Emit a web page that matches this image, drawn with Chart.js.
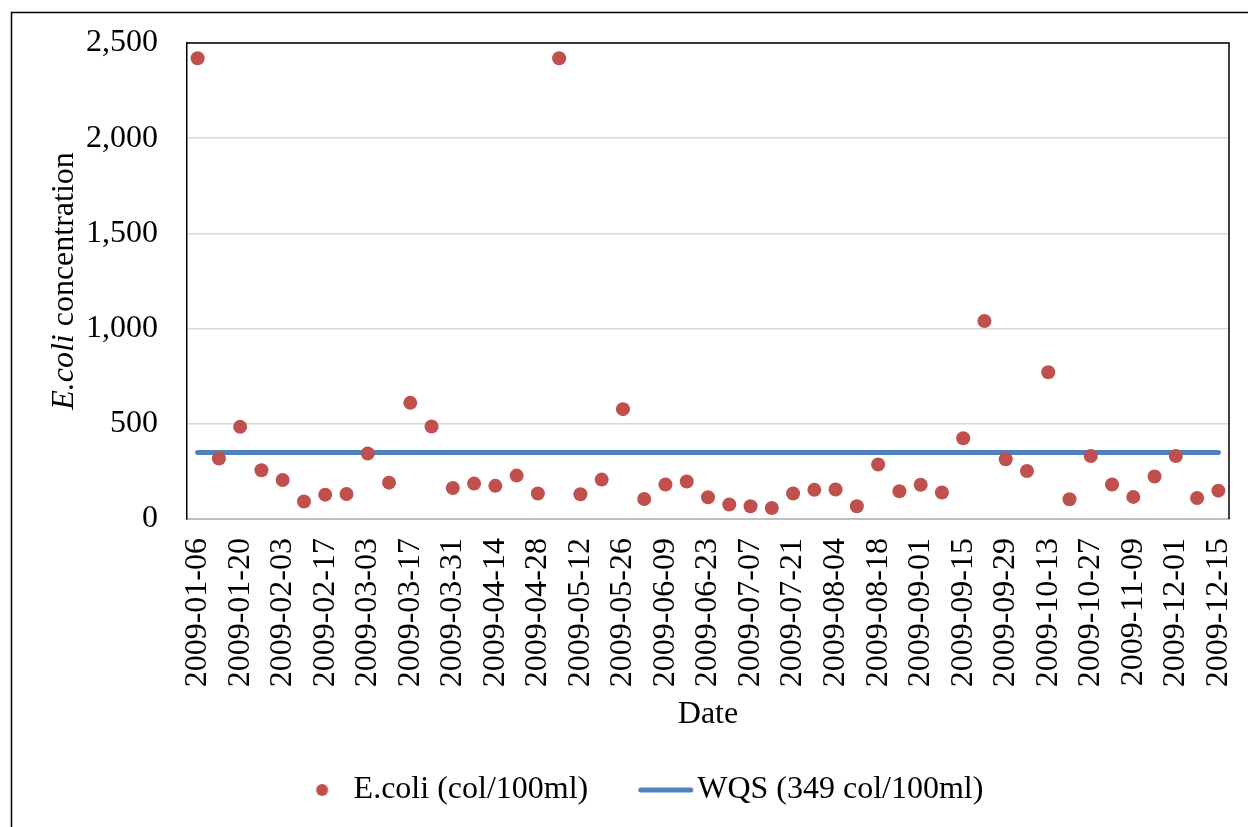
<!DOCTYPE html>
<html>
<head>
<meta charset="utf-8">
<script src="https://cdn.jsdelivr.net/npm/chart.js@4"></script>
<style>
  html, body { margin: 0; padding: 0; background: #fff; }
  canvas { display: block; }
</style>
</head>
<body>
<canvas id="ecoliChart" width="1248" height="827"></canvas>
<script>
const sampleDates = [
    '2009-01-06', '2009-01-13', '2009-01-20', '2009-01-27', '2009-02-03', '2009-02-10', '2009-02-17',
    '2009-02-24', '2009-03-03', '2009-03-10', '2009-03-17', '2009-03-24', '2009-03-31', '2009-04-07',
    '2009-04-14', '2009-04-21', '2009-04-28', '2009-05-05', '2009-05-12', '2009-05-19', '2009-05-26',
    '2009-06-02', '2009-06-09', '2009-06-16', '2009-06-23', '2009-06-30', '2009-07-07', '2009-07-14',
    '2009-07-21', '2009-07-28', '2009-08-04', '2009-08-11', '2009-08-18', '2009-08-25', '2009-09-01',
    '2009-09-08', '2009-09-15', '2009-09-22', '2009-09-29', '2009-10-06', '2009-10-13', '2009-10-20',
    '2009-10-27', '2009-11-03', '2009-11-09', '2009-11-17', '2009-12-01', '2009-12-08', '2009-12-15'
];
const ecoliValues = [
    2420, 318, 484, 256, 205, 92, 128, 131, 344, 191, 610, 486, 163, 186, 174, 228, 134,
    2420, 130, 207, 577, 105, 181, 197, 114, 76, 67, 58, 134, 153, 155, 67, 286, 146, 180,
    139, 424, 1040, 314, 252, 771, 104, 331, 181, 116, 223, 331, 110, 149
];
const wqsLimit = 349;
const yTicks = [0, 500, 1000, 1500, 2000, 2500];
const seriesNames = ['E.coli (col/100ml)', 'WQS (349 col/100ml)'];
const yTitleParts = ['E.coli', ' concentration'];
const xTitle = 'Date';

const fontFamily = "'Liberation Serif', 'Times New Roman', serif";
const dotColor = '#c0504d';
const lineColor = '#4f81bd';

// legend icons: drawn off-centre so the marker/text spacing matches the reference
const makeDotIcon = () => {
    const c = document.createElement('canvas');
    c.width = 64; c.height = 16;
    const g = c.getContext('2d');
    g.fillStyle = dotColor;
    g.beginPath();
    g.arc(56.5, 8, 6, 0, Math.PI * 2);
    g.fill();
    return c;
};
const makeLineIcon = () => {
    const c = document.createElement('canvas');
    c.width = 108; c.height = 8;
    const g = c.getContext('2d');
    g.strokeStyle = lineColor;
    g.lineWidth = 5;
    g.lineCap = 'round';
    g.beginPath();
    g.moveTo(53.5, 4);
    g.lineTo(103.5, 4);
    g.stroke();
    return c;
};
const legendIcons = [makeDotIcon(), makeLineIcon()];

const framePlugin = {
    id: 'frame',
    beforeDraw(chart) {
        const {ctx, width, height} = chart;
        ctx.save();
        ctx.fillStyle = '#fff';
        ctx.fillRect(0, 0, width, height);
        ctx.strokeStyle = '#000';
        ctx.lineWidth = 1.5;
        ctx.beginPath();
        ctx.moveTo(11.5, height);
        ctx.lineTo(11.5, 12.5);
        ctx.lineTo(width, 12.5);
        ctx.stroke();
        ctx.restore();
    },
    beforeDatasetsDraw(chart) {
        const {ctx, chartArea: a} = chart;
        ctx.save();
        ctx.strokeStyle = '#000';
        ctx.lineWidth = 1.5;
        ctx.beginPath();
        ctx.moveTo(a.left, a.top);
        ctx.lineTo(a.right, a.top);
        ctx.lineTo(a.right, a.bottom);
        ctx.stroke();
        ctx.restore();
    }
};

const yTitlePlugin = {
    id: 'yTitle',
    afterDraw(chart) {
        const {ctx, chartArea} = chart;
        const cy = (chartArea.top + chartArea.bottom) / 2;
        const italic = 'italic 32px ' + fontFamily;
        const normal = '32px ' + fontFamily;
        ctx.save();
        ctx.translate(73, cy);
        ctx.rotate(-Math.PI / 2);
        ctx.fillStyle = '#000';
        ctx.textBaseline = 'alphabetic';
        ctx.textAlign = 'left';
        ctx.font = italic;
        const w1 = ctx.measureText(yTitleParts[0]).width;
        ctx.font = normal;
        const w2 = ctx.measureText(yTitleParts[1]).width;
        const x0 = -(w1 + w2) / 2;
        ctx.font = italic;
        ctx.fillText(yTitleParts[0], x0, 0);
        ctx.font = normal;
        ctx.fillText(yTitleParts[1], x0 + w1, 0);
        ctx.restore();
    }
};

const ctx = document.getElementById('ecoliChart').getContext('2d');
new Chart(ctx, {
    type: 'line',
    data: {
        labels: sampleDates,
        datasets: [
            {
                label: seriesNames[0],
                data: ecoliValues,
                showLine: false,
                pointRadius: 7,
                pointHoverRadius: 7,
                pointBackgroundColor: dotColor,
                pointBorderColor: dotColor,
                pointBorderWidth: 0,
                borderColor: dotColor,
                backgroundColor: dotColor
            },
            {
                label: seriesNames[1],
                data: [
                    { x: sampleDates[0], y: wqsLimit },
                    { x: sampleDates[sampleDates.length - 1], y: wqsLimit }
                ],
                borderColor: lineColor,
                backgroundColor: lineColor,
                borderWidth: 5,
                borderCapStyle: 'round',
                pointRadius: 0,
                pointHoverRadius: 0,
                fill: false
            }
        ]
    },
    options: {
        responsive: false,
        animation: false,
        layout: {
            padding: { left: 12, right: 19, top: 43, bottom: 11 }
        },
        scales: {
            x: {
                type: 'category',
                offset: true,
                grid: { display: false, drawTicks: false },
                border: { color: '#bfbfbf', width: 2 },
                ticks: {
                    autoSkip: false,
                    maxRotation: 90,
                    minRotation: 90,
                    padding: 19,
                    color: '#000',
                    font: { family: fontFamily, size: 32 },
                    callback: function (value, index) {
                        return index % 2 === 0 ? this.getLabelForValue(value) : '';
                    }
                },
                title: {
                    display: true,
                    text: xTitle,
                    color: '#000',
                    font: { family: fontFamily, size: 32 },
                    padding: { top: 0, bottom: 27 }
                },
                afterFit: (scale) => {
                    scale.height = 242;
                    scale.paddingLeft = 0;
                    scale.paddingRight = 0;
                }
            },
            y: {
                min: 0,
                max: 2500,
                grid: { color: '#d9d9d9', lineWidth: 1.5, drawTicks: false },
                border: { color: '#000', width: 1.5 },
                ticks: {
                    padding: 29,
                    color: '#000',
                    font: { family: fontFamily, size: 32 },
                    callback: (v) => v.toLocaleString('en-US')
                },
                afterBuildTicks: (scale) => {
                    scale.ticks = yTicks.map(v => ({ value: v }));
                },
                afterFit: (scale) => {
                    scale.width = 175;
                    scale.paddingTop = 0;
                    scale.paddingBottom = 0;
                }
            }
        },
        plugins: {
            legend: {
                position: 'bottom',
                labels: {
                    usePointStyle: true,
                    pointStyleWidth: 80,
                    padding: 13,
                    color: '#000',
                    font: { family: fontFamily, size: 32 },
                    generateLabels: (chart) =>
                        Chart.defaults.plugins.legend.labels.generateLabels(chart)
                            .map((item, i) => ({ ...item, pointStyle: legendIcons[i] }))
                }
            },
            tooltip: { enabled: false }
        }
    },
    plugins: [framePlugin, yTitlePlugin]
});
</script>
</body>
</html>
